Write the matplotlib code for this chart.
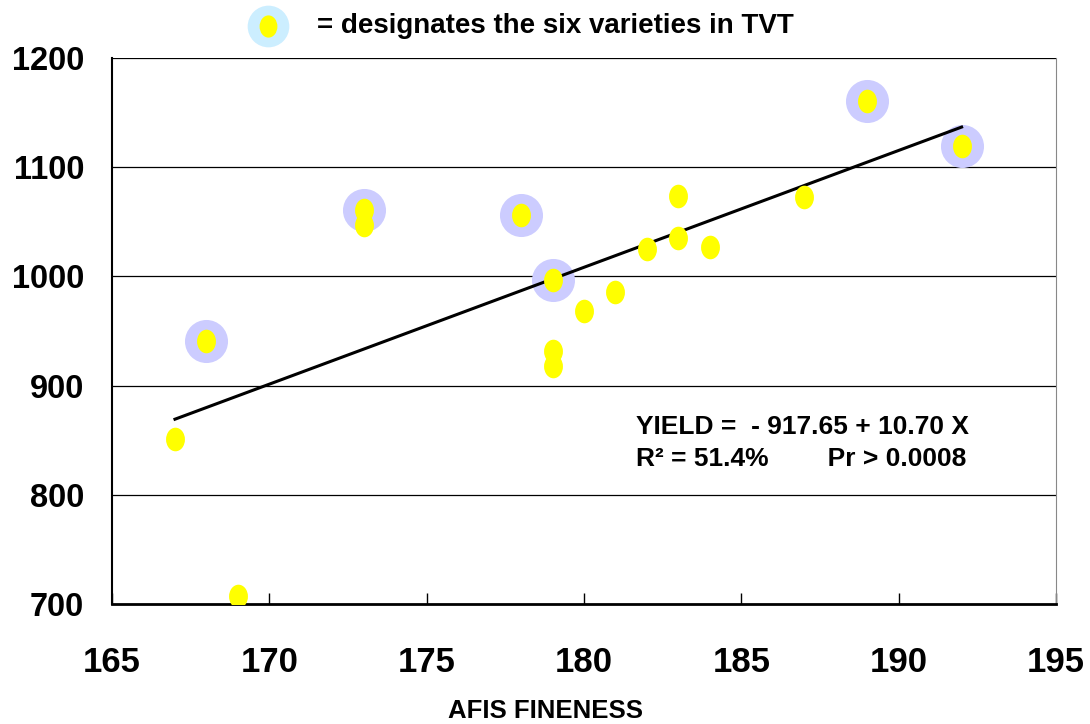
import numpy as np
import matplotlib.pyplot as plt
from matplotlib.path import Path
from matplotlib.transforms import Affine2D

plt.rcParams['font.family'] = ['Liberation Sans', 'DejaVu Sans']

# AFIS fineness vs yield
fineness = [167, 168, 169, 173, 173, 178, 179, 179, 179, 180, 181, 182, 183, 183, 184, 187, 189, 192]
yld = [851, 941, 707, 1061, 1047, 1056, 997, 932, 918, 968, 986, 1025, 1074, 1035, 1027, 1073, 1161, 1119]

# the six varieties in TVT
tvt_x = [168, 173, 178, 179, 189, 192]
tvt_y = [941, 1061, 1056, 997, 1161, 1119]

# regression
intercept = -917.65
slope = 10.70
fit_x = np.linspace(167, 192, 50)

ellipse = Path.unit_circle().transformed(Affine2D().scale(0.8, 1.0))

fig = plt.figure(figsize=(10.9, 7.24), dpi=100)
ax = fig.add_axes([0.1028, 0.1657, 0.8660, 0.7542])

ax.set_xlim(165, 195)
ax.set_ylim(700, 1200)
for yv in [800, 900, 1000, 1100, 1200]:
    ax.axhline(yv, color='black', lw=0.9, zorder=1)

ax.scatter(tvt_x, tvt_y, s=31**2, color='#ccccff', zorder=2, linewidths=0)
ax.plot(fit_x, intercept + slope * fit_x, color='black', lw=2.2, zorder=3)
ax.scatter(fineness, yld, s=17**2, marker=ellipse, color='#ffff00', zorder=4, linewidths=0)

ax.set_xticks(np.arange(165, 196, 5))
ax.set_yticks(np.arange(700, 1201, 100))
ax.tick_params(axis='x', direction='in', length=8, width=1, labelsize=25, pad=30)
ax.tick_params(axis='y', length=0, labelsize=23.5, pad=20)
for lab in ax.get_xticklabels() + ax.get_yticklabels():
    lab.set_fontweight('bold')

ax.spines['left'].set_linewidth(1.5)
ax.spines['bottom'].set_linewidth(2)
ax.spines['top'].set_visible(False)
ax.spines['right'].set_color('#888888')
ax.spines['right'].set_linewidth(0.8)

ax.text(0.555, 0.325, 'YIELD =  - 917.65 + 10.70 X', transform=ax.transAxes,
        fontsize=19, fontweight='bold', ha='left', va='center')
ax.text(0.555, 0.265, 'R² = 51.4%        Pr > 0.0008', transform=ax.transAxes,
        fontsize=19, fontweight='bold', ha='left', va='center')

fig.text(546 / 1090, 1 - 711 / 724, 'AFIS FINENESS', fontsize=18.5, fontweight='bold',
         ha='center', va='center')

# legend note at top
fig.text(317 / 1090, 1 - 26 / 724, '= designates the six varieties in TVT', fontsize=20,
         fontweight='bold', ha='left', va='center')
leg = fig.add_axes([0, 0, 1, 1], facecolor='none')
leg.set_xlim(0, 1090)
leg.set_ylim(724, 0)
leg.axis('off')
leg.scatter([268], [26], s=30**2, color='#cceeff', linewidths=0)
leg.scatter([268], [26], s=16**2, marker=ellipse, color='#ffff00', linewidths=0)

fig.savefig('out.png', dpi=100)
